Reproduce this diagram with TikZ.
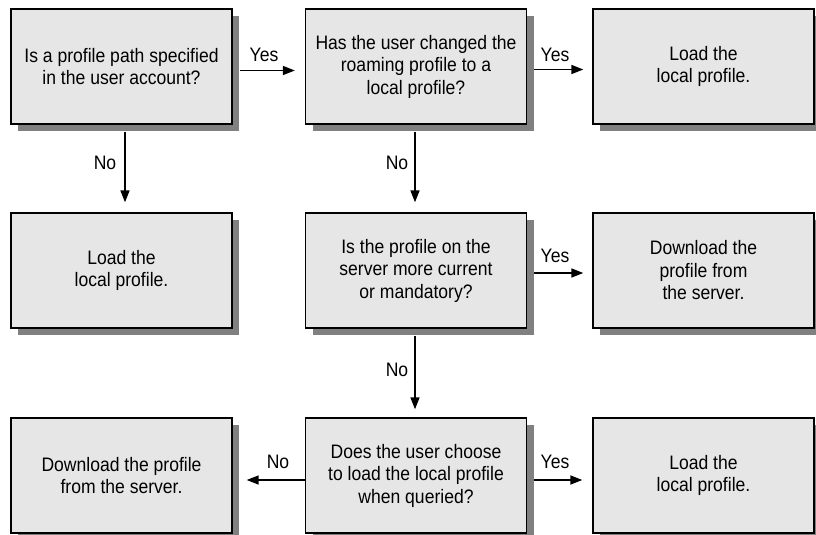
\documentclass[tikz,border=0pt]{standalone}
\usepackage{fontspec}
\setmainfont{Liberation Sans}[FakeStretch=0.9]
\usetikzlibrary{arrows.meta,calc,shadows}
\definecolor{boxfill}{HTML}{E6E6E6}
\definecolor{shadowgray}{HTML}{808080}
\begin{document}
\begin{tikzpicture}[x=1pt,y=-1pt,
  box/.style={draw=black, line width=1.4pt, fill=boxfill,
    minimum width=221pt, minimum height=115pt, align=center, inner sep=0pt,
    font=\fontsize{19.5}{22.5}\selectfont,
    general shadow={shadow xshift=7pt, shadow yshift=-7pt, fill=shadowgray}},
  arr/.style={-{Triangle[length=12pt,width=9pt]}, line width=1.6pt},
  lbl/.style={font=\fontsize{19.5}{22.5}\selectfont, inner sep=0pt}]
\useasboundingbox (0,0) rectangle (816,535);
\node[box] (a1) at (121.5,66.5) {Is a profile path specified\\in the user account?};
\node[box] (a2) at (416,66.5) {Has the user changed the\\roaming profile to a\\local profile?};
\node[box] (a3) at (703.5,66.5) {Load the\\local profile.};
\node[box] (b1) at (121.5,270.5) {Load the\\local profile.};
\node[box] (b2) at (416,270.5) {Is the profile on the\\server more current\\or mandatory?};
\node[box] (b3) at (703.5,270.5) {Download the\\profile from\\the server.};
\node[box] (c1) at (121.5,475.5) {Download the profile\\from the server.};
\node[box] (c2) at (416,475.5) {Does the user choose\\to load the local profile\\when queried?};
\node[box] (c3) at (703.5,475.5) {Load the\\local profile.};
\draw[arr] ($(a1.east)+(7,4)$) -- ($(a2.west)+(-10,4)$);
\draw[arr] ($(a2.east)+(7,3)$) -- ($(a3.west)+(-9,3)$);
\draw[arr] ($(a1.south)+(3.5,7)$) -- ($(b1.north)+(3.5,-10)$);
\draw[arr] ($(a2.south)+(-1,7)$) -- ($(b2.north)+(-1,-10)$);
\draw[arr] ($(b2.east)+(7,2.5)$) -- ($(b3.west)+(-9,2.5)$);
\draw[arr] ($(b2.south)+(-1,7)$) -- ($(c2.north)+(-1,-8)$);
\draw[arr] ($(c2.west)+(0,4.5)$) -- ($(c1.east)+(14,4.5)$);
\draw[arr] ($(c2.east)+(7,4.5)$) -- ($(c3.west)+(-10,4.5)$);
\node[lbl] (y1) at (264,55) {Yes};
\node[lbl] (y2) at (555,55) {Yes};
\node[lbl] (y3) at (555,256) {Yes};
\node[lbl] (y4) at (555,462) {Yes};
\node[lbl] (n1) at (105,163) {No};
\node[lbl] (n2) at (397,163) {No};
\node[lbl] (n3) at (397,370) {No};
\node[lbl] (n4) at (278,462) {No};
\end{tikzpicture}
\end{document}
